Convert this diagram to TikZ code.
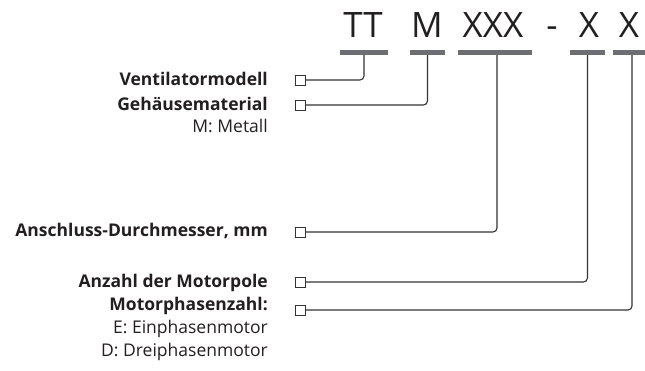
\documentclass[tikz,border=0pt]{standalone}
\usepackage{fontspec}
\setmainfont{Open Sans}
\definecolor{ink}{HTML}{231F20}
\definecolor{barc}{HTML}{6D6E71}
\definecolor{linec}{HTML}{333333}
\begin{document}
\begin{tikzpicture}[x=1pt,y=-1pt,
  code/.style={inner sep=0pt,anchor=base,text=ink,font=\fontsize{35}{35}\selectfont},
  bar/.style={fill=barc,inner sep=0pt,minimum height=5pt,draw=none},
  pin/.style={draw=linec,line width=1pt,fill=white,minimum size=10pt,inner sep=0pt},
  conn/.style={draw=linec,line width=1.1pt,rounded corners=4pt},
  lab/.style={inner sep=0pt,anchor=base east,text=ink,font=\fontsize{17.5}{17.5}\selectfont\bfseries},
  sub/.style={inner sep=0pt,anchor=base east,text=ink,font=\fontsize{17.5}{17.5}\selectfont}]
\useasboundingbox (0,0) rectangle (645,370);
% code letters
\node[code] (cTT) at (363,37.5) {TT};
\node[code] (cM) at (427,37.5) {M};
\node[code] (cX) at (493,37.5) {XXX};
\node[code] (cD) at (552,37.5) {-};
\node[code] (cX1) at (589,37.5) {X};
\node[code] (cX2) at (629,37.5) {X};
% bars
\node[bar,minimum width=48pt] (bTT) at (364,52.5) {};
\node[bar,minimum width=35pt] (bM) at (427.5,52.5) {};
\node[bar,minimum width=74pt] (bX) at (495,52.5) {};
\node[bar,minimum width=35pt] (bX1) at (587.5,52.5) {};
\node[bar,minimum width=34pt] (bX2) at (630,52.5) {};
% pins
\node[pin] (p1) at (300,80) {};
\node[pin] (p2) at (300,105) {};
\node[pin] (p3) at (300,232) {};
\node[pin] (p4) at (300,282) {};
\node[pin] (p5) at (300,310) {};
% labels
\node[lab] (l1) at (268,85) {Ventilatormodell};
\node[lab] (l2) at (268,110) {Gehäusematerial};
\node[sub] (l2a) at (268,132) {M: Metall};
\node[lab] (l3) at (268,236) {Anschluss-Durchmesser, mm};
\node[lab] (l4) at (268,287) {Anzahl der Motorpole};
\node[lab] (l5) at (268,310) {Motorphasenzahl:};
\node[sub] (l5a) at (268,333) {E: Einphasenmotor};
\node[sub] (l5b) at (268,356) {D: Dreiphasenmotor};
% connectors
\draw[conn] (p1.east) -| (bTT.south);
\draw[conn] (p2.east) -| (bM.south);
\draw[conn] (p3.east) -| ([xshift=2pt]bX.south);
\draw[conn] (p4.east) -| (bX1.south);
\draw[conn] (p5.east) -| ([xshift=2pt]bX2.south);
\end{tikzpicture}
\end{document}
